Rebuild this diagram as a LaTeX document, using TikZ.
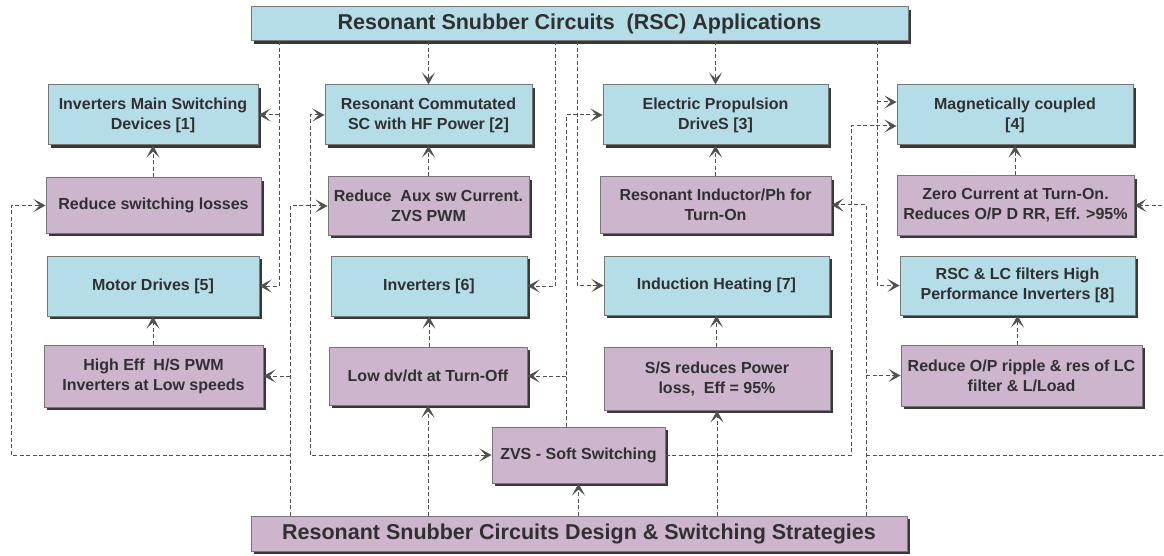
\documentclass[tikz,border=0pt]{standalone}
\usepackage{fontspec}
\setmainfont{Liberation Sans}
\usetikzlibrary{arrows.meta,shadows,calc}
\definecolor{appblue}{RGB}{181,221,232}
\definecolor{strpurple}{RGB}{205,181,205}
\definecolor{edgegray}{RGB}{118,118,118}
\definecolor{linkgray}{RGB}{80,80,80}
\definecolor{inkgray}{RGB}{48,48,48}

\begin{document}
\begin{tikzpicture}[x=1pt,y=-1pt,
  box/.style={draw=edgegray, line width=1pt, inner sep=0pt, align=center,
    text=inkgray, font=\bfseries\fontsize{16}{20}\selectfont,
    drop shadow={shadow xshift=3pt,shadow yshift=-3pt,fill=black!78,opacity=1}},
  app/.style={box, fill=appblue},
  strat/.style={box, fill=strpurple},
  headbox/.style={font=\bfseries\fontsize{21.5}{26}\selectfont},
  link/.style={draw=linkgray, line width=1pt, dash pattern=on 4pt off 2.5pt},
  arr/.style={link, -{Stealth[length=12pt,width=13pt,inset=6pt,fill=linkgray]}},
  dbl/.style={link, {Stealth[length=12pt,width=13pt,inset=6pt,fill=linkgray]}-{Stealth[length=12pt,width=13pt,inset=6pt,fill=linkgray]}}]

\useasboundingbox (0,0) rectangle (1164,556);
\clip (0,0) rectangle (1164,556);

% headers
\node[app, headbox, minimum width=657pt, minimum height=34pt] (top) at (579.5,24)
  {Resonant Snubber Circuits\ \ (RSC) Applications};
\node[strat, headbox, minimum width=656pt, minimum height=35pt] (bot) at (579,533.5)
  {Resonant Snubber Circuits Design \& Switching Strategies};

% column 1
\node[app, minimum width=210pt, minimum height=60pt] (b1) at (153,115)
  {Inverters Main Switching\\Devices [1]};
\node[strat, minimum width=215pt, minimum height=55pt] (p1) at (153.5,205.5)
  {Reduce switching losses};
\node[app, minimum width=212pt, minimum height=60pt] (b5) at (153,286)
  {Motor Drives [5]};
\node[strat, minimum width=219pt, minimum height=62pt] (p5) at (153.5,376)
  {High Eff\ \ H/S PWM\\Inverters at Low speeds};

% column 2
\node[app, minimum width=207pt, minimum height=60pt] (b2) at (428.5,115)
  {Resonant Commutated\\SC with HF Power [2]};
\node[strat, minimum width=201pt, minimum height=58pt] (p2) at (428.5,206)
  {Reduce\ \ Aux sw Current.\\ZVS PWM};
\node[app, minimum width=196pt, minimum height=60pt] (b6) at (429,286)
  {Inverters [6]};
\node[strat, minimum width=198pt, minimum height=58pt] (p6) at (428,376)
  {Low dv/dt at Turn-Off};

% column 3
\node[app, minimum width=225pt, minimum height=60pt] (b3) at (715.5,115)
  {Electric Propulsion\\DriveS [3]};
\node[strat, minimum width=231pt, minimum height=56pt] (p3) at (715.5,205)
  {Resonant Inductor/Ph for\\Turn-On};
\node[app, minimum width=225pt, minimum height=59pt] (b7) at (716.5,285.5)
  {Induction Heating [7]};
\node[strat, minimum width=226pt, minimum height=63pt] (p7) at (717,378.5)
  {S/S reduces Power\\loss,\ \ Eff = 95\%};

% column 4
\node[app, minimum width=236pt, minimum height=60pt] (b4) at (1015,115)
  {Magnetically coupled\\{[4]}};
\node[strat, minimum width=237pt, minimum height=59pt] (p4) at (1015.5,205.5)
  {Zero Current at Turn-On.\\Reduces O/P D RR, Eff. >95\%};
\node[app, minimum width=235pt, minimum height=59pt] (b8) at (1017.5,285.5)
  {RSC \& LC filters High\\Performance Inverters [8]};
\node[strat, minimum width=241pt, minimum height=61pt] (p8) at (1021.5,375.5)
  {Reduce O/P ripple \& res of LC\\filter \& L/Load};

% soft switching hub
\node[strat, minimum width=173pt, minimum height=56pt] (zvs) at (578.5,455)
  {ZVS - Soft Switching};

% trunk positions
\coordinate (xA) at (279,0);
\coordinate (xB) at (555,0);
\coordinate (xC) at (577,0);
\coordinate (xD) at (877,0);
\coordinate (xE) at (310,0);
\coordinate (xF) at (290,0);
\coordinate (xG) at (866,0);
\coordinate (xH) at (566,0);
\coordinate (xI) at (851,0);
\coordinate (xL) at (11,0);
\coordinate (xR) at (1172,0);
\coordinate (b4a) at ($(b4.west)+(0,-13)$);
\coordinate (b4b) at ($(b4.west)+(0,11)$);

% links from the applications header
\draw[arr] (top.south -| xA) |- (b5.east);
\draw[arr] (xA |- b1.east) -- (b1.east);
\draw[arr] (top.south -| b2.north) -- (b2.north);
\draw[arr] (top.south -| xB) |- (b6.east);
\draw[arr] (top.south -| xC) |- (b7.west);
\draw[arr] (top.south -| b3.north) -- (b3.north);
\draw[arr] (top.south -| xD) |- (b8.west);
\draw[arr] (xD |- b4a) -- (b4a);

% links from the design header
\draw[arr] (bot.north -| xF) |- (p2.west);
\draw[arr] (xF |- p5.east) -- (p5.east);
\draw[arr] (xF |- zvs.west) -| (xL |- p1.west) -- (p1.west);
\draw[arr] (bot.north -| p6.south) -- (p6.south);
\draw[arr] (bot.north -| zvs.south) -- (zvs.south);
\draw[arr] (bot.north -| p7.south) -- (p7.south);
\draw[arr] (bot.north -| xG) |- (p3.east);
\draw[arr] (xG |- p8.west) -- (p8.west);
\draw[arr] (xG |- zvs.east) -| (xR |- p4.east) -- (p4.east);

% links around the soft switching hub
\draw[dbl] (b2.west) -| (xE |- zvs.west) -- (zvs.west);
\draw[arr] (zvs.north -| xH) |- (b3.west);
\draw[arr] (xH |- p6.east) -- (p6.east);
\draw[arr] (zvs.east) -| (xI |- b4b) -- (b4b);

% strategy to application within each column
\draw[arr] (b1.south |- p1.north) -- (b1.south);
\draw[arr] (b5.south |- p5.north) -- (b5.south);
\draw[arr] (b2.south |- p2.north) -- (b2.south);
\draw[arr] (b6.south |- p6.north) -- (b6.south);
\draw[arr] (b3.south |- p3.north) -- (b3.south);
\draw[arr] (b7.south |- p7.north) -- (b7.south);
\draw[arr] (b4.south |- p4.north) -- (b4.south);
\draw[arr] (b8.south |- p8.north) -- (b8.south);
\end{tikzpicture}
\end{document}
